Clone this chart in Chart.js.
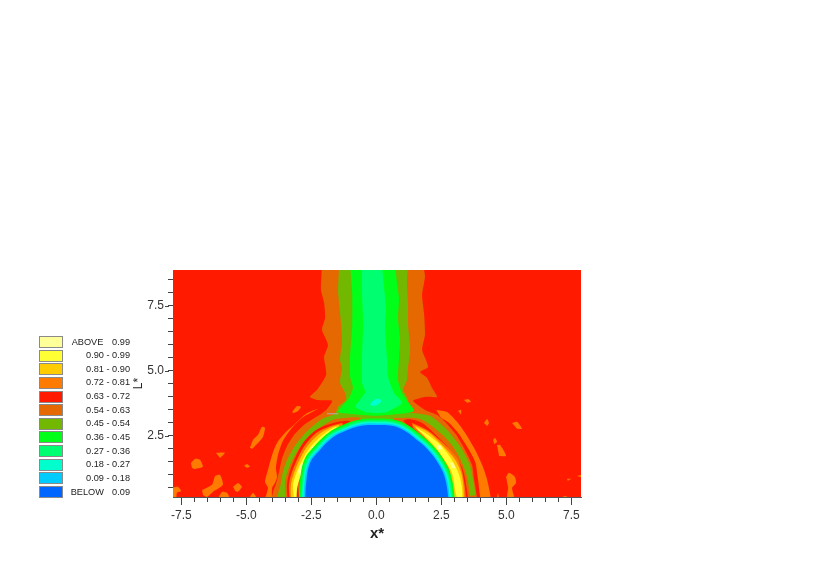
<!DOCTYPE html>
<html>
<head>
<meta charset="utf-8">
<style>html,body{margin:0;padding:0;background:#fff}canvas{display:block}</style>
<script src="https://cdn.jsdelivr.net/npm/chart.js@4"></script>
</head>
<body>
<canvas id="c" width="813" height="566"></canvas>
<script>
// Axis ranges and labels
const xRange = [-7.82, 7.87];
const yRange = [0.15, 8.88];
const xTitle = 'x*';
const yTitle = 'L*';

// Legend
const legendKeys = ['ABOVE','','','','','','','','','','','BELOW'];
const legendRanges = ['0.99','0.90 - 0.99','0.81 - 0.90','0.72 - 0.81','0.63 - 0.72','0.54 - 0.63','0.45 - 0.54','0.36 - 0.45','0.27 - 0.36','0.18 - 0.27','0.09 - 0.18','0.09'];

// Band colours
const cPale='#FFFF99', cYellow='#FFFF33', cGold='#FFCC00', cOrange='#FF7A00', cRed='#FF1A00', cDark='#E66800',
      cOlive='#73B800', cGreen='#00FF19', cSpring='#00FF70', cCyan='#00FFCC', cSky='#00CCFF', cBlue='#0066FF';
const legendColors = [cPale,cYellow,cGold,cOrange,cRed,cDark,cOlive,cGreen,cSpring,cCyan,cSky,cBlue];

// Contour outlines, in axis units (x*, L*)
const background = [[-9,-1],[9,-1],[9,10],[-9,10]];
const islandsLeft = [
 [[-4.86,2.04],[-4.74,2.35],[-4.55,2.54],[-4.40,2.85],[-4.28,2.81],[-4.36,2.46],[-4.55,2.23],[-4.78,2.0]],
 [[-6.17,1.85],[-5.82,1.85],[-6.01,1.65]],
 [[-7.13,1.46],[-6.97,1.62],[-6.78,1.58],[-6.67,1.31],[-6.97,1.23],[-7.09,1.27]],
 [[-5.09,1.35],[-4.97,1.42],[-4.86,1.31],[-4.97,1.27]],
 [[-6.70,.42],[-6.32,.62],[-6.20,.96],[-6.01,1],[-5.90,.62],[-6.28,.35],[-6.51,.15],[-6.67,.23]],
 [[-5.51,.54],[-5.32,.69],[-5.17,.54],[-5.32,.35],[-5.43,.38]],
 [[-7.9,.5],[-7.63,.54],[-7.51,.38],[-7.67,.31],[-7.70,.1],[-7.9,.1]],
 [[-6.09,.1],[-5.93,.35],[-5.74,.31],[-5.63,.1]],
 [[-4.90,.1],[-4.74,.31],[-4.59,.1]],
 [[-3.24,3.42],[-3.05,3.65],[-2.90,3.62],[-3.01,3.46],[-3.20,3.38]]
];
const islandsRight = [
 [[3.37,3.88],[3.53,3.92],[3.64,3.81],[3.49,3.77]],
 [[3.14,3.46],[3.26,3.5],[3.26,3.31]],
 [[4.14,3],[4.26,3.15],[4.33,3],[4.26,2.88]],
 [[5.22,3],[5.41,3.04],[5.60,2.77],[5.41,2.77]],
 [[4.49,2.35],[4.57,2.42],[4.64,2.27],[4.53,2.19]],
 [[4.64,2.15],[4.76,2.15],[4.99,1.73],[4.72,1.73]],
 [[4.99,.92],[5.10,1.08],[5.33,.92],[5.37,.69],[5.22,.5],[5.30,.1],[5.03,.1],[5.07,.5]],
 [[4.64,.1],[4.68,.31],[4.72,.1]],
 [[7.33,.85],[7.49,.85],[7.37,.77]],
 [[7.72,.96],[7.95,1.0],[7.95,.88]],
 [[7.07,.1],[7.26,.19],[7.45,.1]]
];
const arcLeft = [[-4.36,-.15],[-4.17,.5],[-4.28,.73],[-4.17,1.19],[-4.01,1.77],[-3.82,2.23],[-3.51,2.62],[-3.13,2.96],[-2.70,3.35],[-2.24,3.54],[-2.86,3.19],[-3.24,2.81],[-3.59,2.31],[-3.78,1.77],[-3.86,1.27],[-3.82,.92],[-3.90,.69],[-4.01,.5],[-4.01,-.15]];
const arcRight = [[2.30,3.5],[2.72,3.42],[3.10,3.04],[3.41,2.62],[3.80,1.96],[4.07,1.38],[4.26,.81],[4.41,-.15],[4.07,-.15],[3.91,.81],[3.80,1.5],[3.49,2.08],[3.14,2.62],[2.80,3],[2.49,3.19]];
const darkBand = [[-2.09,9.08],[-2.13,8.12],[-2.01,7.62],[-1.97,7.04],[-2.09,6.58],[-1.86,6],[-2.01,5.54],[-1.93,4.85],[-2.28,4.27],[-2.55,4],[-2.24,3.88],[-1.70,3.85],[-1.97,3.46],[-2.74,2.96],[-3.13,2.58],[-3.43,2.12],[-3.63,1.62],[-3.74,1.12],[-3.86,.65],[-3.97,.35],[-4.01,-.15],[3.87,-.15],[3.87,.15],[3.76,.81],[3.68,1.38],[3.41,1.96],[3.07,2.54],[2.72,2.96],[2.33,3.31],[1.87,3.5],[1.41,3.85],[1.87,4],[2.33,4],[2.14,4.35],[1.95,4.73],[1.68,4.96],[1.99,5.15],[1.76,5.81],[1.87,6.38],[1.84,7.15],[1.76,7.92],[1.87,8.62],[1.80,9.08]];
const oliveBand = [[-1.43,9.08],[-1.47,8.04],[-1.36,6.85],[-1.32,6.08],[-1.40,5.42],[-1.32,5.15],[-1.40,4.54],[-1.20,4.15],[-1.17,3.88],[-1.47,3.62],[-1.59,3.35],[-2.09,3.15],[-2.70,2.65],[-3.13,2.12],[-3.43,1.58],[-3.59,1.12],[-3.70,.54],[-3.82,.12],[-3.82,-.15],[3.45,-.15],[3.53,.19],[3.80,.23],[3.60,1.38],[3.26,2.04],[2.76,2.69],[2.07,3.27],[1.22,3.42],[1.03,3.58],[1.22,3.88],[1.03,4.27],[1.18,4.65],[1.22,5.15],[1.30,5.81],[1.22,6.77],[1.22,7.54],[1.18,8.42],[1.22,9.08]];
const greenChannel = [[-1.01,9.08],[-.93,8],[-.93,6.69],[-1.01,5.54],[-1.01,4.77],[-.90,4.35],[-1.05,3.96],[-1.28,3.69],[-1.47,3.42],[-1.01,3.35],[-.05,3.27],[.91,3.35],[1.45,3.46],[1.22,3.81],[.99,4.15],[.83,4.65],[.87,5.46],[.91,6.23],[.83,7],[.87,7.77],[.79,8.42],[.72,9.08]];
const springChannel = [[-.55,9.08],[-.55,8],[-.51,6.85],[-.55,5.54],[-.55,4.54],[-.43,4.19],[-.63,3.88],[-.82,3.62],[-.43,3.42],[-.01,3.38],[.41,3.42],[.99,3.77],[.68,4.15],[.45,4.77],[.41,5.46],[.33,6.77],[.37,7.38],[.21,9.08]];
const cyanSpot = [[-.24,3.73],[-.09,3.88],[.14,3.92],[.18,3.81],[.03,3.69],[-.17,3.65]];
const darkInnerL = [[-3.47,-.15],[-3.51,.73],[-3.32,1.38],[-2.93,2.08],[-2.43,2.62],[-1.67,3.12],[-1.20,3.19],[-.63,3.19],[-.63,2.92],[-1.78,2.15],[-2.55,-.15]];
const darkInnerR = [[.68,3.19],[1.68,3.15],[2.45,2.62],[2.95,2.08],[3.33,1.38],[3.53,.73],[3.53,-.15],[2.64,-.15],[1.68,2.15],[.68,2.92]];
const redL = [[-3.40,-.15],[-3.43,.69],[-3.24,1.38],[-2.82,2.23],[-2.32,2.73],[-1.78,2.96],[-1.13,3.08],[-.93,3],[-1.32,2.81],[-2.17,2.04],[-2.74,1.38],[-3.01,.73],[-2.93,-.15]];
const orangeL = [[-3.32,-.15],[-3.36,.65],[-3.17,1.31],[-2.74,2.15],[-2.20,2.69],[-1.32,3],[-1.32,2.85],[-2.09,2.12],[-2.59,1.54],[-2.90,1.04],[-3.09,.58],[-3.01,-.15]];
const goldL = [[-3.28,-.15],[-3.28,.65],[-3.09,1.27],[-2.67,2.08],[-2.13,2.62],[-1.47,2.92],[-1.43,2.77],[-2.09,2.19],[-2.55,1.62],[-2.86,1.12],[-3.05,.62],[-3.05,-.15]];
const yellowL = [[-3.17,.15],[-3.20,.65],[-3.01,1.23],[-2.59,2],[-2.05,2.54],[-1.55,2.85],[-1.51,2.73],[-2.05,2.27],[-2.51,1.69],[-2.82,1.19],[-3.01,.65],[-3.09,.15]];
const paleL1 = [[-3.01,1.12],[-2.90,1.42],[-2.78,1.46],[-2.82,1.19],[-2.93,.96]];
const paleL2 = [[-2.55,1.92],[-2.43,2.12],[-2.36,2.08],[-2.47,1.88]];
const redR = [[1.03,3.08],[1.22,3.15],[1.76,3],[2.37,2.46],[2.91,1.88],[3.30,1.27],[3.45,.62],[3.49,-.15],[2.91,-.15],[2.45,1.58],[1.68,2.42]];
const orangeR = [[1.37,3],[1.95,2.73],[2.57,2.23],[3.10,1.65],[3.33,1],[3.41,-.15],[2.95,-.15],[2.76,1.12],[2.45,1.69],[1.99,2.23],[1.41,2.81]];
const goldR = [[1.41,2.92],[1.99,2.65],[2.53,2.15],[3.03,1.58],[3.30,.92],[3.33,-.15],[3.03,-.15],[2.83,1.12],[2.53,1.69],[2.07,2.23],[1.57,2.77]];
const yellowR = [[1.49,2.85],[1.99,2.54],[2.53,2.08],[2.95,1.5],[3.22,.88],[3.30,.15],[3.10,.15],[2.91,1.08],[2.57,1.65],[2.14,2.23],[1.60,2.73]];
const paleR1 = [[2.30,2.12],[2.45,2.15],[2.53,2.0],[2.41,1.96]];
const paleR2 = [[2.83,1.46],[2.95,1.46],[3.03,1.27],[2.91,1.27]];
const domeGreen = [[-2.99,-.15],[-2.94,.75],[-2.77,1.58],[-2.36,2.13],[-1.84,2.62],[-1.39,2.88],[-.68,3.12],[.03,3.17],[.70,3.12],[1.20,2.92],[1.75,2.51],[2.17,2.13],[2.59,1.58],[2.88,.95],[3.05,-.15]];
const domeSpring = [[-2.92,-.15],[-2.87,.73],[-2.71,1.55],[-2.30,2.08],[-1.80,2.57],[-1.36,2.81],[-.67,3.06],[.03,3.10],[.68,3.06],[1.17,2.86],[1.70,2.46],[2.12,2.08],[2.53,1.55],[2.81,.93],[2.98,-.15]];
const domeCyan = [[-2.86,-.15],[-2.82,.72],[-2.65,1.52],[-2.26,2.04],[-1.77,2.52],[-1.33,2.76],[-.66,3.0],[.03,3.04],[.67,3.0],[1.15,2.80],[1.67,2.41],[2.08,2.04],[2.47,1.52],[2.76,.91],[2.92,-.15]];
const domeSky = [[-2.80,-.15],[-2.76,.70],[-2.60,1.49],[-2.21,2.0],[-1.73,2.47],[-1.31,2.70],[-.64,2.94],[.03,2.98],[.65,2.94],[1.12,2.75],[1.63,2.36],[2.03,2.0],[2.42,1.49],[2.70,.90],[2.86,-.15]];
const domeBlue = [[-2.74,-.15],[-2.70,.69],[-2.55,1.46],[-2.17,1.96],[-1.70,2.42],[-1.28,2.65],[-.63,2.88],[.03,2.92],[.64,2.88],[1.10,2.69],[1.60,2.31],[1.99,1.96],[2.37,1.46],[2.64,.88],[2.80,-.15]];
const faintMark = [[-1.90,3.35],[-1.47,3.35]];

// Painting order: first is at the back
const layers = [
 [background,cRed,0],
 ...islandsLeft.map(p=>[p,cOrange,.2]),
 ...islandsRight.map(p=>[p,cOrange,.2]),
 [arcLeft,cOrange,.25],[arcRight,cOrange,.25],
 [darkBand,cDark,.2],[oliveBand,cOlive,.2],
 [greenChannel,cGreen,.2],[springChannel,cSpring,.2],[cyanSpot,cCyan,.3],
 [darkInnerL,cDark,.3],[darkInnerR,cDark,.3],
 [redL,cRed,.3],[redR,cRed,.3],
 [orangeL,cOrange,.3],[orangeR,cOrange,.3],
 [goldL,cGold,.3],[goldR,cGold,.3],
 [yellowL,cYellow,.3],[yellowR,cYellow,.3],
 [paleL1,cPale,.3],[paleL2,cPale,.3],[paleR1,cPale,.3],[paleR2,cPale,.3],
 [domeGreen,cGreen,.4],[domeSpring,cSpring,.4],[domeCyan,cCyan,.4],[domeSky,cSky,.4],[domeBlue,cBlue,.4]
];
const n = layers.length;
const datasets = layers.map(([pts,color,tension],i)=>({
  data: pts.map(([x,y])=>({x,y})),
  showLine:true, fill:'shape', backgroundColor:color, borderWidth:0, borderColor:color,
  pointRadius:0, tension, capBezierPoints:false, order:n-i+1
}));
datasets.push({data:faintMark.map(([x,y])=>({x,y})),showLine:true,fill:false,borderColor:'#b0b0b0',borderWidth:1,pointRadius:0,order:0});

const isMajor = v => Math.abs(v/2.5-Math.round(v/2.5))<1e-6;
const tickFont = {family:'"Liberation Sans",Arial,sans-serif',size:12};

const extras = {
  id:'extras',
  afterDraw(chart){
    const ctx=chart.ctx, sx=chart.scales.x, sy=chart.scales.y;
    ctx.save();
    // longer marks on the labelled ticks
    ctx.strokeStyle='#444'; ctx.lineWidth=1;
    sx.ticks.filter(t=>isMajor(t.value)).forEach(t=>{
      const p=Math.round(sx.getPixelForValue(t.value))+.5;
      ctx.beginPath();ctx.moveTo(p,sx.top+4);ctx.lineTo(p,sx.top+8);ctx.stroke();
    });
    sy.ticks.filter(t=>isMajor(t.value)).forEach(t=>{
      const p=Math.round(sy.getPixelForValue(t.value))+.5;
      ctx.beginPath();ctx.moveTo(sy.right-4,p);ctx.lineTo(sy.right-8,p);ctx.stroke();
    });
    // legend
    ctx.font='9.2px "Liberation Sans",Arial,sans-serif';
    ctx.textBaseline='middle';
    legendRanges.forEach((r,i)=>{
      const y=336+i*13.64;
      ctx.fillStyle=legendColors[i];
      ctx.fillRect(39.5,Math.round(y)+.5,23,11);
      ctx.strokeStyle='#8a8a8a';
      ctx.strokeRect(39.5,Math.round(y)+.5,23,11);
      ctx.fillStyle='#222';
      ctx.textAlign='right';
      ctx.fillText(r,130,y+6);
      if(legendKeys[i]){ctx.textAlign='left';ctx.fillText(legendKeys[i],i===0?71.7:70.7,y+6);}
    });
    ctx.restore();
  }
};

new Chart(document.getElementById('c'),{
  type:'scatter',
  data:{datasets},
  plugins:[extras],
  options:{
    responsive:false,animation:false,events:[],
    layout:{padding:{left:127,right:232,top:270,bottom:19}},
    plugins:{legend:{display:false},tooltip:{enabled:false},title:{display:false}},
    scales:{
      x:{type:'linear',min:xRange[0],max:xRange[1],
        afterFit:s=>{s.height=50;},
        border:{display:true,color:'#555',width:1},
        grid:{drawOnChartArea:false,drawTicks:true,tickLength:5,tickColor:'#444'},
        ticks:{stepSize:.5,includeBounds:false,autoSkip:false,maxRotation:0,padding:6,color:'#333',font:tickFont,
          callback:v=>isMajor(v)?v.toFixed(1):''},
        title:{display:true,text:xTitle,color:'#222',font:{family:tickFont.family,size:15,weight:'bold'}}
      },
      y:{type:'linear',min:yRange[0],max:yRange[1],
        afterFit:s=>{s.width=46;},
        border:{display:true,color:'#555',width:1},
        grid:{drawOnChartArea:false,drawTicks:true,tickLength:5,tickColor:'#444'},
        ticks:{stepSize:.5,includeBounds:false,autoSkip:false,padding:4,color:'#333',font:tickFont,
          callback:v=>isMajor(v)?v.toFixed(1):''},
        title:{display:true,text:yTitle,color:'#222',font:{family:tickFont.family,size:12}}
      }
    }
  }
});
</script>
</body>
</html>
